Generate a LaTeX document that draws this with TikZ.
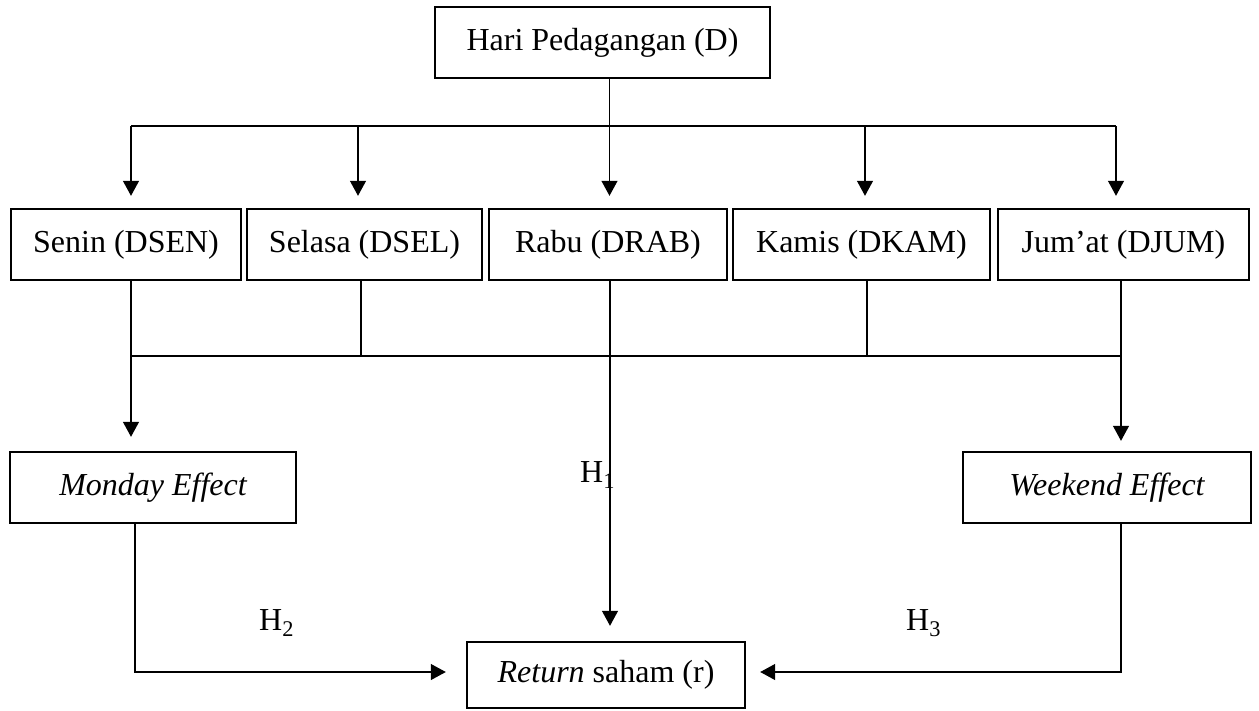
\documentclass[tikz,border=0pt]{standalone}
\usepackage{fontspec}
\setmainfont{Liberation Serif}
\usetikzlibrary{arrows.meta}
\begin{document}
\begin{tikzpicture}[x=1pt,y=-1pt,
  box/.style={draw, line width=2.4pt, minimum height=71pt, inner sep=0pt, font=\fontsize{32}{38}\selectfont},
  conn/.style={line width=1.2pt},
  arr/.style={conn, -{Triangle[length=15pt,width=16pt]}},
  lbl/.style={font=\fontsize{32}{38}\selectfont, inner sep=0pt, anchor=base west}]
\useasboundingbox (0,0) rectangle (1259,710);
% nodes
\node[box, minimum width=335pt] (hari) at (602.5,42.5) {Hari Pedagangan (D)};
\node[box, minimum width=230pt] (senin) at (126,244.5) {Senin (DSEN)};
\node[box, minimum width=235pt] (selasa) at (364.5,244.5) {Selasa (DSEL)};
\node[box, minimum width=238pt] (rabu) at (608,244.5) {Rabu (DRAB)};
\node[box, minimum width=257pt] (kamis) at (861.5,244.5) {Kamis (DKAM)};
\node[box, minimum width=251pt] (jumat) at (1123.5,244.5) {Jum’at (DJUM)};
\node[box, minimum width=286pt] (monday) at (153,487.5) {\itshape Monday Effect};
\node[box, minimum width=288pt] (weekend) at (1107,487.5) {\itshape Weekend Effect};
\node[box, minimum width=278pt, minimum height=66pt] (ret) at (606,675) {\textit{Return} saham (r)};
% labels
\node[lbl] (h1) at (580,482) {H\textsubscript{1}};
\node[lbl] (h2) at (259,630) {H\textsubscript{2}};
\node[lbl] (h3) at (906,630) {H\textsubscript{3}};
% top distribution
\coordinate (b1) at (131,126);
\coordinate (b2) at (358,126);
\coordinate (b4) at (865,126);
\coordinate (b5) at (1116,126);
\draw[conn] (b1) -- (b5);
\draw[arr, shorten >=12pt] (b1) -- (b1 |- senin.north);
\draw[arr, shorten >=12pt] (b2) -- (b2 |- selasa.north);
\draw[arr, shorten >=12pt] (b4) -- (b4 |- kamis.north);
\draw[arr, shorten >=12pt] (b5) -- (b5 |- jumat.north);
\draw[arr, shorten >=12pt] ([xshift=7pt]hari.south) -- ([xshift=7pt]hari.south |- rabu.north);
% lower collection
\coordinate (j1) at (131,356);
\coordinate (j2) at (361,356);
\coordinate (j4) at (867,356);
\coordinate (j5) at (1121,356);
\draw[conn] (j1 |- senin.south) -- (j1) -- (j5) -- (j5 |- jumat.south);
\draw[conn] (j2 |- selasa.south) -- (j2);
\draw[conn] (j4 |- kamis.south) -- (j4);
\draw[arr, shorten >=15pt] ([xshift=2pt]rabu.south) -- ([xshift=2pt]rabu.south |- ret.north);
\draw[arr, shorten >=14pt] (j1) -- (j1 |- monday.north);
\draw[arr, shorten >=10pt] (j5) -- (j5 |- weekend.north);
% to return
\coordinate (m) at (135,672);
\coordinate (w) at (1121,672);
\draw[arr, shorten >=20pt] (m |- monday.south) -- (m) -- (m -| ret.west);
\draw[arr, shorten >=14pt] (w |- weekend.south) -- (w) -- (w -| ret.east);
\end{tikzpicture}
\end{document}
